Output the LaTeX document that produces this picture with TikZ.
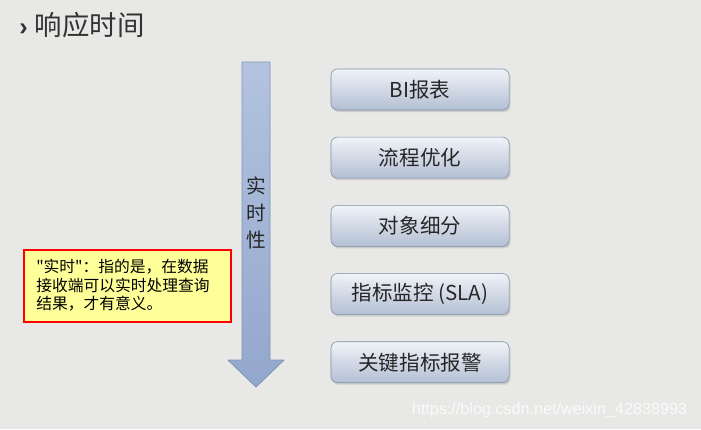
\documentclass[tikz,border=0pt]{standalone}
\usepackage{fontspec}
\setmainfont{Liberation Sans}
\newfontfamily\cjkfont{Noto Sans CJK SC}
\usepackage{tikz}
\usetikzlibrary{positioning,shadows,calc}
\definecolor{colorbg}{HTML}{E8E8E6}
\definecolor{colorboxtop}{HTML}{F0F3F8}
\definecolor{colorboxbot}{HTML}{B3BFD3}
\definecolor{colorboxline}{HTML}{7D8DA3}
\definecolor{colorarrtop}{HTML}{B3C3E0}
\definecolor{colorarrbot}{HTML}{93A7CC}
\definecolor{colorarrline}{HTML}{7E93B6}
\definecolor{colornote}{HTML}{FFFF99}
\definecolor{colortitle}{HTML}{333333}
\tikzset{stage/.style={draw=colorboxline, rounded corners=1.6mm, top color=colorboxtop,
  bottom color=colorboxbot, minimum width=4.45cm, minimum height=1.025cm,
  drop shadow={shadow xshift=0.4mm, shadow yshift=-0.5mm, opacity=0.25},
  font=\cjkfont\fontsize{14.6}{16}\selectfont, text=black!85}}
\tikzset{note/.style={draw=red, line width=1.4pt, fill=colornote, minimum width=5.15cm,
  minimum height=1.8cm, align=left, inner sep=0pt,
  font=\cjkfont\fontsize{11.2}{13.2}\selectfont}}

\begin{document}
\begin{tikzpicture}[x=0.025cm, y=-0.025cm]
\fill[colorbg] (0,0) rectangle (701,429);
\useasboundingbox (0,0) rectangle (701,429);

% title
\node[anchor=west, text=colortitle, inner sep=0pt] (title) at (19,25)
{\fontsize{18}{18}\selectfont\textbf{\char"203A}\hspace{1.8mm}\cjkfont\fontsize{19.5}{21}\selectfont 响应时间};

% arrow
\coordinate (a1) at (242,62);
\coordinate (a2) at (270,62);
\coordinate (a3) at (270,360);
\coordinate (a4) at (284,360);
\coordinate (tip) at (256,387);
\coordinate (a5) at (228,360);
\coordinate (a6) at (242,360);
\draw[colorarrline, top color=colorarrtop, bottom color=colorarrbot, line width=0.6pt, line join=round]
  (a1) -- (a2) -- (a3) -- (a4) -- (tip) -- (a5) -- (a6) -- cycle;
\node[align=center, font=\cjkfont\fontsize{14}{19}\selectfont, text=black!85] (rt) at (256,213)
{实\\时\\性};

% stages
\node[stage] (bi) at (420,89.5) {BI报表};
\node[stage, below=0.665cm of bi] (flow) {流程优化};
\node[stage, below=0.665cm of flow] (seg) {对象细分};
\node[stage, below=0.665cm of seg] (mon) {指标监控 (SLA)};
\node[stage, below=0.665cm of mon] (alarm) {关键指标报警};

% note
\node[note] (expl) at (127.5,286) {};
\node[anchor=north west, align=left, inner sep=0pt, font=\cjkfont\fontsize{11.2}{13.2}\selectfont] (expltext) at (36,259)
{"实时"：指的是，在数据\\接收端可以实时处理查询\\结果，才有意义。};

% watermark
\node[anchor=east, text=white!80!colorbg, font=\fontsize{11.5}{12}\selectfont] (wm) at (692,410)
{https://blog.csdn.net/weixin\_42838993};
\end{tikzpicture}
\end{document}
